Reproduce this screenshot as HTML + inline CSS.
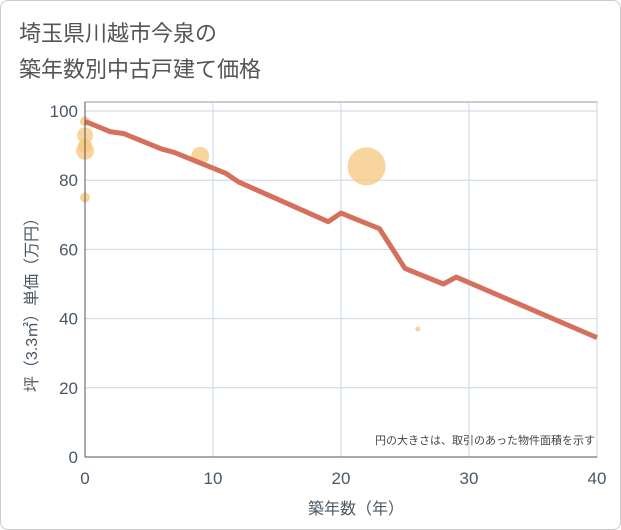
<!DOCTYPE html>
<html><head><meta charset="utf-8"><style>
body{margin:0;background:#fff;font-family:"Liberation Sans","Noto Sans CJK JP",sans-serif}
#wrap{position:relative;width:619px;height:528px;border:1px solid #ccc;border-radius:8px;overflow:hidden}
</style></head><body>
<div id="wrap">
<svg id="c" width="621" height="530">
<text x="18" y="40" font-size="22" fill="#555" font-family="Liberation Sans,Noto Sans CJK JP,sans-serif">埼玉県川越市今泉の</text>
<text x="18" y="76" font-size="22" fill="#555" font-family="Liberation Sans,Noto Sans CJK JP,sans-serif">築年数別中古戸建て価格</text>
<rect x="84" y="101" width="512" height="355" fill="none" stroke="#999"/>
<g id="grid"></g><g id="bub"></g><g id="ln"></g><g id="ax"></g>
<text x="594" y="443" font-size="11" fill="#444" text-anchor="end">円の大きさは、取引のあった物件面積を示す</text>
<text x="355" y="513" font-size="16" fill="#4a5866" text-anchor="middle">築年数（年）</text>
<text transform="translate(36,300) rotate(-90)" font-size="16" fill="#4a5866" text-anchor="middle">坪（3.3㎡）単価（万円）</text>
</svg></div>
<script>
const xTicks=[0,10,20,30,40];
const yTicks=[0,20,40,60,80,100];
const lineX=[0,1,2,3,6,7,9,11,12,19,20,23,25,28,29,40];
const lineY=[97,95.5,94,93.5,89,88,85,82,79.5,68,70.5,66,54.5,50,52,34.5];
const bubX=[0,0,0,0,0,9,22,26];
const bubY=[97,93,90,88.5,75,87,84,37];
const bubR=[5,8,7,9,5,9,19,2.5];
const NS="http://www.w3.org/2000/svg";
const sx=v=>84+v*12.8, sy=v=>456-v*3.46;
function mk(t,a,p){const e=document.createElementNS(NS,t);for(const k in a)e.setAttribute(k,a[k]);p.appendChild(e);return e;}
const g=document.getElementById('grid'),ax=document.getElementById('ax');
xTicks.forEach(v=>{
 const l=mk('line',{x1:sx(v),x2:sx(v),y1:101,y2:456,stroke:'#c8d6e5'},g);
 
 
 const t=mk('text',{x:sx(v),y:483,'font-size':17,fill:'#4a5866','text-anchor':'middle'},ax);t.textContent=v;
 
 
});
yTicks.forEach(v=>{
 const l=mk('line',{x1:84,x2:596,y1:sy(v),y2:sy(v),stroke:'#c8d6e5'},g);
 
 
 const t=mk('text',{x:77,y:sy(v)+6,'font-size':17,fill:'#4a5866','text-anchor':'end'},ax);t.textContent=v;
 
 
});
const b=document.getElementById('bub');
bubX.forEach((x,i)=>{
 const c=mk('circle',{cx:sx(x),cy:sy(bubY[i]),r:bubR[i],fill:'#f5c77e','fill-opacity':0.75},b);
 
 
});
const p=mk('polyline',{points:lineX.map((x,i)=>sx(x)+','+sy(lineY[i])).join(' '),fill:'none',stroke:'#d4705c','stroke-width':5,'stroke-linejoin':'round'},document.getElementById('ln'));


const ya=mk('line',{x1:84,x2:84,y1:101,y2:456,stroke:'#555'},ax);


const xa=mk('line',{x1:84,x2:596,y1:456,y2:456,stroke:'#555'},ax);


</script></body></html>
